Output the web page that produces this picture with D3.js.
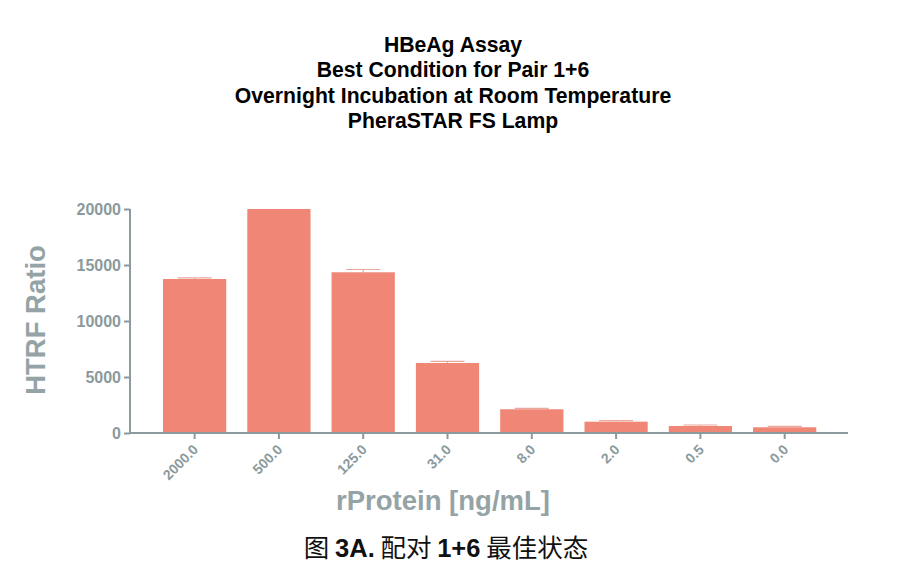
<!DOCTYPE html>
<html>
<head>
<meta charset="utf-8">
<script src="https://cdn.jsdelivr.net/npm/d3@7"></script>
<style>
  body { margin: 0; background: #fff; }
  svg { display: block; }
</style>
</head>
<body>
<svg id="chart" width="902" height="574"></svg>
<script>
const categories = ["2000.0", "500.0", "125.0", "31.0", "8.0", "2.0", "0.5", "0.0"];
const values = [13750, 20000, 14350, 6250, 2120, 1010, 625, 510];
const errors = [100, 0, 250, 150, 80, 90, 90, 80];
const yTicks = [0, 5000, 10000, 15000, 20000];
const titleLines = ["HBeAg Assay", "Best Condition for Pair 1+6", "Overnight Incubation at Room Temperature", "PheraSTAR FS Lamp"];

const svg = d3.select("#chart");
const font = "'Liberation Sans', Arial, Helvetica, sans-serif";
const gray = "#8a9a9d";
const barColor = "#ef8676";
const capColor = "#eaa79c";

const x = d3.scaleBand().domain(categories).range([163, 816.3]).paddingInner(0.25).paddingOuter(0);
const y = d3.scaleLinear().domain([0, 20000]).range([433, 209]);

// Title
svg.append("g").selectAll("text").data(titleLines).join("text")
  .attr("x", 453).attr("y", (d, i) => 52 + i * 25.3)
  .attr("text-anchor", "middle")
  .attr("font-family", font).attr("font-weight", "bold").attr("font-size", 21.2)
  .attr("fill", "#000").text(d => d);

// Bars
svg.append("g").selectAll("rect").data(values).join("rect")
  .attr("x", (d, i) => x(categories[i]))
  .attr("width", x.bandwidth())
  .attr("y", d => y(d))
  .attr("height", d => y(0) - y(d))
  .attr("fill", barColor);

// Error bars
const eg = svg.append("g").attr("stroke", capColor).attr("stroke-width", 1.2);
values.forEach((v, i) => {
  if (!errors[i]) return;
  const cx = x(categories[i]) + x.bandwidth() / 2;
  eg.append("line").attr("x1", cx).attr("x2", cx).attr("y1", y(v)).attr("y2", y(v + errors[i]));
  eg.append("line").attr("x1", cx - 17).attr("x2", cx + 17).attr("y1", y(v + errors[i])).attr("y2", y(v + errors[i]));
});

// Y axis
const yAxis = svg.append("g").attr("transform", "translate(130,0)")
  .call(d3.axisLeft(y).tickValues(yTicks).tickSize(6).tickPadding(3).tickFormat(d3.format("d")));
yAxis.select(".domain").attr("stroke", gray).attr("stroke-width", 2).attr("d", "M0,209V434");
yAxis.selectAll(".tick line").attr("stroke", gray).attr("stroke-width", 2);
yAxis.selectAll(".tick text").attr("fill", gray).attr("font-family", font)
  .attr("font-weight", "bold").attr("font-size", 16);

// X axis
const xAxis = svg.append("g").attr("transform", "translate(0,433)")
  .call(d3.axisBottom(x).tickSize(6).tickPadding(4));
xAxis.select(".domain").attr("stroke", gray).attr("stroke-width", 2).attr("d", "M129,0H848");
xAxis.selectAll(".tick line").attr("stroke", gray).attr("stroke-width", 2);
xAxis.selectAll(".tick text").attr("fill", gray).attr("font-family", font)
  .attr("font-weight", "bold").attr("font-size", 14)
  .attr("text-anchor", "end")
  .attr("x", 0).attr("y", 0)
  .attr("dy", "0.35em")
  .attr("transform", "translate(1,14) rotate(-45)");

// Axis titles
svg.append("text")
  .attr("transform", "translate(45,320) rotate(-90)")
  .attr("text-anchor", "middle")
  .attr("font-family", font).attr("font-weight", "bold").attr("font-size", 27.5)
  .attr("fill", "#94a3a5").text("HTRF Ratio");

svg.append("text")
  .attr("x", 443).attr("y", 510)
  .attr("text-anchor", "middle")
  .attr("font-family", font).attr("font-weight", "bold").attr("font-size", 27.5)
  .attr("fill", "#94a3a5").text("rProtein [ng/mL]");

// Caption
const cap = svg.append("text")
  .attr("x", 446).attr("y", 557)
  .attr("text-anchor", "middle")
  .attr("font-family", "'Noto Sans CJK SC', 'Liberation Sans', sans-serif")
  .attr("font-size", 25.5).attr("fill", "#111");
cap.append("tspan").text("图 ");
cap.append("tspan").attr("font-weight", "bold").attr("font-family", font).text("3A.");
cap.append("tspan").text(" 配对 ");
cap.append("tspan").attr("font-weight", "bold").attr("font-family", font).text("1+6");
cap.append("tspan").text(" 最佳状态");
</script>
</body>
</html>
